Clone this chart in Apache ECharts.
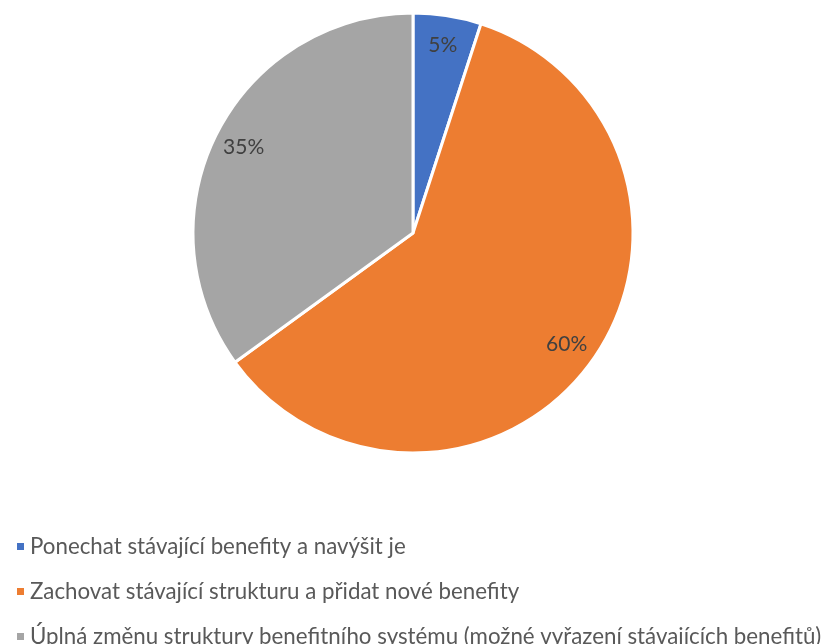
<!DOCTYPE html>
<html><head><meta charset="utf-8">
<script src="https://cdn.jsdelivr.net/npm/echarts@6/dist/echarts.min.js"></script>
<style>html,body{margin:0;padding:0;background:#fff}#c{width:827px;height:644px}</style>
</head><body><div id="c"></div>
<script>
const categories = [
  "Ponechat stávající benefity a navýšit je",
  "Zachovat stávající strukturu a přidat nové benefity",
  "Úplná změnu struktury benefitního systému (možné vyřazení stávajících benefitů)"
];
const values = [5, 60, 35];
const colors = ["#4472C4", "#ED7D31", "#A5A5A5"];

const data = categories.map((n, i) => ({ name: n, value: values[i], itemStyle: { color: colors[i] } }));
const labelData = categories.map((n, i) => ({ name: n, value: values[i] }));

const chart = echarts.init(document.getElementById('c'));
chart.setOption({
  animation: false,
  legend: {
    orient: 'vertical', left: 10, top: 530, height: 300,
    itemWidth: 9, itemHeight: 9, itemGap: 22, icon: 'rect',
    textStyle: { fontFamily: 'Lato', fontSize: 22.3, lineHeight: 23, color: '#595959' },
    data: categories
  },
  series: [
    {
      type: 'pie', center: [413, 233], radius: [0, 220], startAngle: 90, clockwise: true,
      data: data, label: { show: false }, labelLine: { show: false },
      itemStyle: { borderColor: '#fff', borderWidth: 3 }
    },
    {
      type: 'pie', center: [413, 233], radius: [154, 220], startAngle: 90, clockwise: true,
      silent: true, legendHoverLink: false,
      data: labelData,
      itemStyle: { color: 'rgba(0,0,0,0)' },
      label: { show: true, position: 'inside', formatter: p => p.value + '%',
        fontFamily: 'Lato', fontSize: 21, color: '#404040' },
      labelLine: { show: false }
    }
  ]
});
</script></body></html>
